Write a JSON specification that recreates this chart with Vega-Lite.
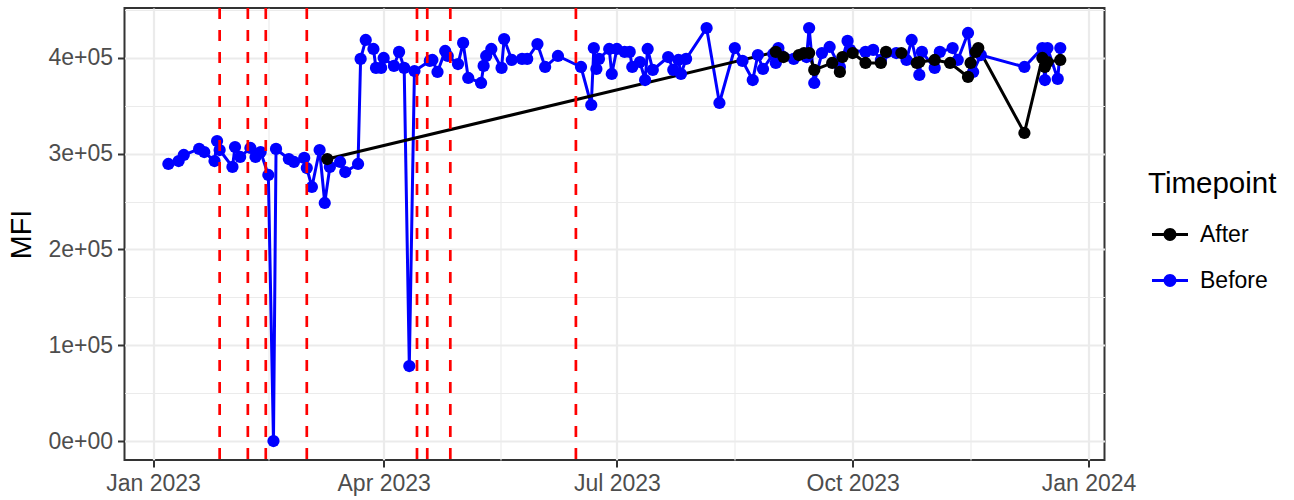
{
  "$schema": "https://vega.github.io/schema/vega-lite/v6.json",
  "width": 980,
  "height": 452,
  "autosize": "none",
  "padding": {"left": 124.5, "top": 8, "right": 189.5, "bottom": 40},
  "background": "white",
  "datasets": {
    "obs": [
      {"date": "2023-01-07", "MFI": 289300, "Timepoint": "Before"},
      {"date": "2023-01-11", "MFI": 292400, "Timepoint": "Before"},
      {"date": "2023-01-13", "MFI": 298700, "Timepoint": "Before"},
      {"date": "2023-01-19", "MFI": 305000, "Timepoint": "Before"},
      {"date": "2023-01-21", "MFI": 301800, "Timepoint": "Before"},
      {"date": "2023-01-25", "MFI": 292400, "Timepoint": "Before"},
      {"date": "2023-01-26", "MFI": 313300, "Timepoint": "Before"},
      {"date": "2023-01-27", "MFI": 303900, "Timepoint": "Before"},
      {"date": "2023-02-01", "MFI": 286200, "Timepoint": "Before"},
      {"date": "2023-02-02", "MFI": 307000, "Timepoint": "Before"},
      {"date": "2023-02-04", "MFI": 296600, "Timepoint": "Before"},
      {"date": "2023-02-08", "MFI": 306000, "Timepoint": "Before"},
      {"date": "2023-02-10", "MFI": 296600, "Timepoint": "Before"},
      {"date": "2023-02-12", "MFI": 301800, "Timepoint": "Before"},
      {"date": "2023-02-15", "MFI": 277800, "Timepoint": "Before"},
      {"date": "2023-02-17", "MFI": 0, "Timepoint": "Before"},
      {"date": "2023-02-18", "MFI": 305000, "Timepoint": "Before"},
      {"date": "2023-02-23", "MFI": 294500, "Timepoint": "Before"},
      {"date": "2023-02-25", "MFI": 291400, "Timepoint": "Before"},
      {"date": "2023-03-01", "MFI": 295600, "Timepoint": "Before"},
      {"date": "2023-03-02", "MFI": 285100, "Timepoint": "Before"},
      {"date": "2023-03-04", "MFI": 265300, "Timepoint": "Before"},
      {"date": "2023-03-07", "MFI": 303900, "Timepoint": "Before"},
      {"date": "2023-03-09", "MFI": 248600, "Timepoint": "Before"},
      {"date": "2023-03-11", "MFI": 286200, "Timepoint": "Before"},
      {"date": "2023-03-15", "MFI": 291400, "Timepoint": "Before"},
      {"date": "2023-03-17", "MFI": 280900, "Timepoint": "Before"},
      {"date": "2023-03-22", "MFI": 289300, "Timepoint": "Before"},
      {"date": "2023-03-23", "MFI": 399000, "Timepoint": "Before"},
      {"date": "2023-03-25", "MFI": 418800, "Timepoint": "Before"},
      {"date": "2023-03-28", "MFI": 409400, "Timepoint": "Before"},
      {"date": "2023-03-29", "MFI": 389600, "Timepoint": "Before"},
      {"date": "2023-03-31", "MFI": 389600, "Timepoint": "Before"},
      {"date": "2023-04-01", "MFI": 400000, "Timepoint": "Before"},
      {"date": "2023-04-05", "MFI": 391700, "Timepoint": "Before"},
      {"date": "2023-04-07", "MFI": 406300, "Timepoint": "Before"},
      {"date": "2023-04-09", "MFI": 389600, "Timepoint": "Before"},
      {"date": "2023-04-11", "MFI": 78300, "Timepoint": "Before"},
      {"date": "2023-04-13", "MFI": 386400, "Timepoint": "Before"},
      {"date": "2023-04-19", "MFI": 396900, "Timepoint": "Before"},
      {"date": "2023-04-20", "MFI": 397900, "Timepoint": "Before"},
      {"date": "2023-04-22", "MFI": 385400, "Timepoint": "Before"},
      {"date": "2023-04-25", "MFI": 407300, "Timepoint": "Before"},
      {"date": "2023-04-26", "MFI": 402100, "Timepoint": "Before"},
      {"date": "2023-04-30", "MFI": 393700, "Timepoint": "Before"},
      {"date": "2023-05-02", "MFI": 415700, "Timepoint": "Before"},
      {"date": "2023-05-04", "MFI": 379100, "Timepoint": "Before"},
      {"date": "2023-05-09", "MFI": 373900, "Timepoint": "Before"},
      {"date": "2023-05-10", "MFI": 391700, "Timepoint": "Before"},
      {"date": "2023-05-11", "MFI": 402100, "Timepoint": "Before"},
      {"date": "2023-05-13", "MFI": 409400, "Timepoint": "Before"},
      {"date": "2023-05-17", "MFI": 389600, "Timepoint": "Before"},
      {"date": "2023-05-18", "MFI": 419800, "Timepoint": "Before"},
      {"date": "2023-05-21", "MFI": 397900, "Timepoint": "Before"},
      {"date": "2023-05-25", "MFI": 399000, "Timepoint": "Before"},
      {"date": "2023-05-27", "MFI": 399000, "Timepoint": "Before"},
      {"date": "2023-05-31", "MFI": 414600, "Timepoint": "Before"},
      {"date": "2023-06-03", "MFI": 390600, "Timepoint": "Before"},
      {"date": "2023-06-08", "MFI": 402100, "Timepoint": "Before"},
      {"date": "2023-06-17", "MFI": 390600, "Timepoint": "Before"},
      {"date": "2023-06-21", "MFI": 350900, "Timepoint": "Before"},
      {"date": "2023-06-22", "MFI": 410400, "Timepoint": "Before"},
      {"date": "2023-06-23", "MFI": 388500, "Timepoint": "Before"},
      {"date": "2023-06-24", "MFI": 399000, "Timepoint": "Before"},
      {"date": "2023-06-28", "MFI": 409400, "Timepoint": "Before"},
      {"date": "2023-06-29", "MFI": 383300, "Timepoint": "Before"},
      {"date": "2023-07-01", "MFI": 409400, "Timepoint": "Before"},
      {"date": "2023-07-04", "MFI": 406300, "Timepoint": "Before"},
      {"date": "2023-07-06", "MFI": 406300, "Timepoint": "Before"},
      {"date": "2023-07-07", "MFI": 390600, "Timepoint": "Before"},
      {"date": "2023-07-10", "MFI": 395800, "Timepoint": "Before"},
      {"date": "2023-07-12", "MFI": 377000, "Timepoint": "Before"},
      {"date": "2023-07-13", "MFI": 409400, "Timepoint": "Before"},
      {"date": "2023-07-15", "MFI": 387500, "Timepoint": "Before"},
      {"date": "2023-07-21", "MFI": 401000, "Timepoint": "Before"},
      {"date": "2023-07-23", "MFI": 387500, "Timepoint": "Before"},
      {"date": "2023-07-25", "MFI": 397900, "Timepoint": "Before"},
      {"date": "2023-07-26", "MFI": 383300, "Timepoint": "Before"},
      {"date": "2023-07-28", "MFI": 399000, "Timepoint": "Before"},
      {"date": "2023-08-05", "MFI": 431300, "Timepoint": "Before"},
      {"date": "2023-08-10", "MFI": 353000, "Timepoint": "Before"},
      {"date": "2023-08-16", "MFI": 410400, "Timepoint": "Before"},
      {"date": "2023-08-19", "MFI": 396900, "Timepoint": "Before"},
      {"date": "2023-08-23", "MFI": 377000, "Timepoint": "Before"},
      {"date": "2023-08-25", "MFI": 403100, "Timepoint": "Before"},
      {"date": "2023-08-27", "MFI": 388500, "Timepoint": "Before"},
      {"date": "2023-08-31", "MFI": 404200, "Timepoint": "Before"},
      {"date": "2023-09-01", "MFI": 394800, "Timepoint": "Before"},
      {"date": "2023-09-02", "MFI": 410400, "Timepoint": "Before"},
      {"date": "2023-09-08", "MFI": 399000, "Timepoint": "Before"},
      {"date": "2023-09-13", "MFI": 401000, "Timepoint": "Before"},
      {"date": "2023-09-14", "MFI": 431300, "Timepoint": "Before"},
      {"date": "2023-09-16", "MFI": 373900, "Timepoint": "Before"},
      {"date": "2023-09-19", "MFI": 405200, "Timepoint": "Before"},
      {"date": "2023-09-22", "MFI": 411500, "Timepoint": "Before"},
      {"date": "2023-09-26", "MFI": 390600, "Timepoint": "Before"},
      {"date": "2023-09-29", "MFI": 417800, "Timepoint": "Before"},
      {"date": "2023-09-30", "MFI": 408400, "Timepoint": "Before"},
      {"date": "2023-10-06", "MFI": 406300, "Timepoint": "Before"},
      {"date": "2023-10-09", "MFI": 408400, "Timepoint": "Before"},
      {"date": "2023-10-12", "MFI": 397900, "Timepoint": "Before"},
      {"date": "2023-10-18", "MFI": 405200, "Timepoint": "Before"},
      {"date": "2023-10-22", "MFI": 397900, "Timepoint": "Before"},
      {"date": "2023-10-24", "MFI": 418800, "Timepoint": "Before"},
      {"date": "2023-10-27", "MFI": 382300, "Timepoint": "Before"},
      {"date": "2023-10-28", "MFI": 406300, "Timepoint": "Before"},
      {"date": "2023-11-02", "MFI": 389600, "Timepoint": "Before"},
      {"date": "2023-11-04", "MFI": 406300, "Timepoint": "Before"},
      {"date": "2023-11-09", "MFI": 410400, "Timepoint": "Before"},
      {"date": "2023-11-11", "MFI": 397900, "Timepoint": "Before"},
      {"date": "2023-11-15", "MFI": 426100, "Timepoint": "Before"},
      {"date": "2023-11-17", "MFI": 385400, "Timepoint": "Before"},
      {"date": "2023-11-20", "MFI": 403100, "Timepoint": "Before"},
      {"date": "2023-12-07", "MFI": 390600, "Timepoint": "Before"},
      {"date": "2023-12-14", "MFI": 410400, "Timepoint": "Before"},
      {"date": "2023-12-15", "MFI": 377000, "Timepoint": "Before"},
      {"date": "2023-12-16", "MFI": 410400, "Timepoint": "Before"},
      {"date": "2023-12-20", "MFI": 378100, "Timepoint": "Before"},
      {"date": "2023-12-21", "MFI": 410400, "Timepoint": "Before"},
      {"date": "2023-03-10", "MFI": 294500, "Timepoint": "After"},
      {"date": "2023-09-01", "MFI": 406300, "Timepoint": "After"},
      {"date": "2023-09-04", "MFI": 401000, "Timepoint": "After"},
      {"date": "2023-09-10", "MFI": 403100, "Timepoint": "After"},
      {"date": "2023-09-12", "MFI": 405200, "Timepoint": "After"},
      {"date": "2023-09-14", "MFI": 405200, "Timepoint": "After"},
      {"date": "2023-09-16", "MFI": 387500, "Timepoint": "After"},
      {"date": "2023-09-23", "MFI": 394800, "Timepoint": "After"},
      {"date": "2023-09-26", "MFI": 385400, "Timepoint": "After"},
      {"date": "2023-09-27", "MFI": 401000, "Timepoint": "After"},
      {"date": "2023-10-01", "MFI": 405200, "Timepoint": "After"},
      {"date": "2023-10-06", "MFI": 394800, "Timepoint": "After"},
      {"date": "2023-10-12", "MFI": 394800, "Timepoint": "After"},
      {"date": "2023-10-14", "MFI": 406300, "Timepoint": "After"},
      {"date": "2023-10-20", "MFI": 405200, "Timepoint": "After"},
      {"date": "2023-10-26", "MFI": 394800, "Timepoint": "After"},
      {"date": "2023-10-27", "MFI": 395800, "Timepoint": "After"},
      {"date": "2023-11-02", "MFI": 397900, "Timepoint": "After"},
      {"date": "2023-11-08", "MFI": 394800, "Timepoint": "After"},
      {"date": "2023-11-15", "MFI": 380200, "Timepoint": "After"},
      {"date": "2023-11-16", "MFI": 394800, "Timepoint": "After"},
      {"date": "2023-11-18", "MFI": 406300, "Timepoint": "After"},
      {"date": "2023-11-19", "MFI": 410400, "Timepoint": "After"},
      {"date": "2023-12-07", "MFI": 321700, "Timepoint": "After"},
      {"date": "2023-12-14", "MFI": 400000, "Timepoint": "After"},
      {"date": "2023-12-15", "MFI": 390600, "Timepoint": "After"},
      {"date": "2023-12-16", "MFI": 395800, "Timepoint": "After"},
      {"date": "2023-12-21", "MFI": 397900, "Timepoint": "After"}
    ],
    "events": [
      {"date": "2023-01-27"},
      {"date": "2023-02-07"},
      {"date": "2023-02-14"},
      {"date": "2023-03-02"},
      {"date": "2023-04-14"},
      {"date": "2023-04-18"},
      {"date": "2023-04-27"},
      {"date": "2023-06-15"}
    ]
  },
  "encoding": {
    "x": {
      "field": "date",
      "type": "temporal",
      "scale": {
        "type": "utc",
        "nice": false,
        "domain": [
          {"year": 2022, "month": 12, "date": 20, "hours": 21, "utc": true},
          {"year": 2024, "month": 1, "date": 7, "hours": 6, "utc": true}
        ]
      },
      "axis": {
        "title": null,
        "values": [
          {"year": 2023, "month": 1, "date": 1, "utc": true},
          {"year": 2023, "month": 2, "date": 15, "utc": true},
          {"year": 2023, "month": 4, "date": 1, "utc": true},
          {"year": 2023, "month": 5, "date": 16, "hours": 12, "utc": true},
          {"year": 2023, "month": 7, "date": 1, "utc": true},
          {"year": 2023, "month": 8, "date": 16, "utc": true},
          {"year": 2023, "month": 10, "date": 1, "utc": true},
          {"year": 2023, "month": 11, "date": 16, "utc": true},
          {"year": 2024, "month": 1, "date": 1, "utc": true}
        ],
        "labelExpr": "utcdate(datum.value) === 1 ? utcFormat(datum.value, '%b %Y') : ''",
        "labelOverlap": false,
        "labelFlush": false,
        "labelBound": false,
        "gridWidth": {"condition": {"test": "utcdate(datum.value) === 1", "value": 2.2}, "value": 1.1},
        "tickOpacity": {"condition": {"test": "utcdate(datum.value) === 1", "value": 1}, "value": 0}
      }
    },
    "y": {
      "field": "MFI",
      "type": "quantitative",
      "scale": {"domain": [-19840, 452200], "nice": false, "zero": false},
      "axis": {
        "title": "MFI",
        "titlePadding": 11,
        "values": [0, 50000, 100000, 150000, 200000, 250000, 300000, 350000, 400000, 450000],
        "labelExpr": "datum.value % 100000 === 0 ? (datum.value / 100000) + 'e+' + (datum.value === 0 ? '00' : '05') : ''",
        "labelOverlap": false,
        "labelFlush": false,
        "labelBound": false,
        "gridWidth": {"condition": {"test": "datum.value % 100000 === 0", "value": 2.2}, "value": 1.1},
        "tickOpacity": {"condition": {"test": "datum.value % 100000 === 0", "value": 1}, "value": 0}
      }
    }
  },
  "layer": [
    {
      "data": {"name": "obs"},
      "mark": {"type": "line", "strokeWidth": 3},
      "encoding": {
        "detail": {"field": "Timepoint", "type": "nominal"},
        "stroke": {"condition": {"test": "datum.Timepoint === 'After'", "value": "#000000"}, "value": "#0000FF"}
      }
    },
    {
      "data": {"name": "obs"},
      "mark": {"type": "point", "filled": true, "size": 150, "opacity": 1, "strokeWidth": 0},
      "encoding": {
        "color": {
          "field": "Timepoint",
          "type": "nominal",
          "scale": {"domain": ["After", "Before"], "range": ["#000000", "#0000FF"]},
          "legend": {
            "title": "Timepoint",
            "orient": "none",
            "legendX": 1023.5,
            "legendY": 162,
            "titleFontSize": 29.5,
            "titleFontWeight": "normal",
            "titleColor": "#000000",
            "titlePadding": 17,
            "labelFontSize": 23,
            "labelColor": "#000000",
            "labelOffset": 12,
            "rowPadding": 16,
            "symbolOffset": 4,
            "symbolType": "M-1,-0.08L1,-0.08L1,0.08L-1,0.08Z M0.36,0A0.36,0.36 0 1 1 -0.36,0A0.36,0.36 0 1 1 0.36,0Z",
            "symbolSize": 1296,
            "symbolStrokeWidth": 0,
            "symbolOpacity": 1
          }
        }
      }
    },
    {
      "data": {"name": "events"},
      "mark": {"type": "rule", "color": "#FF0000", "strokeWidth": 2.7, "strokeDash": [11, 11]},
      "encoding": {
        "y": null
      }
    }
  ],
  "config": {
    "font": "Liberation Sans",
    "view": {"stroke": "#333333", "strokeWidth": 2},
    "axis": {
      "domain": false,
      "tickColor": "#333333",
      "tickWidth": 2,
      "tickSize": 7,
      "labelColor": "#4D4D4D",
      "labelFontSize": 23,
      "labelPadding": 5,
      "titleColor": "#000000",
      "titleFontSize": 28.7,
      "titleFontWeight": "normal",
      "gridColor": "#EBEBEB"
    }
  }
}
